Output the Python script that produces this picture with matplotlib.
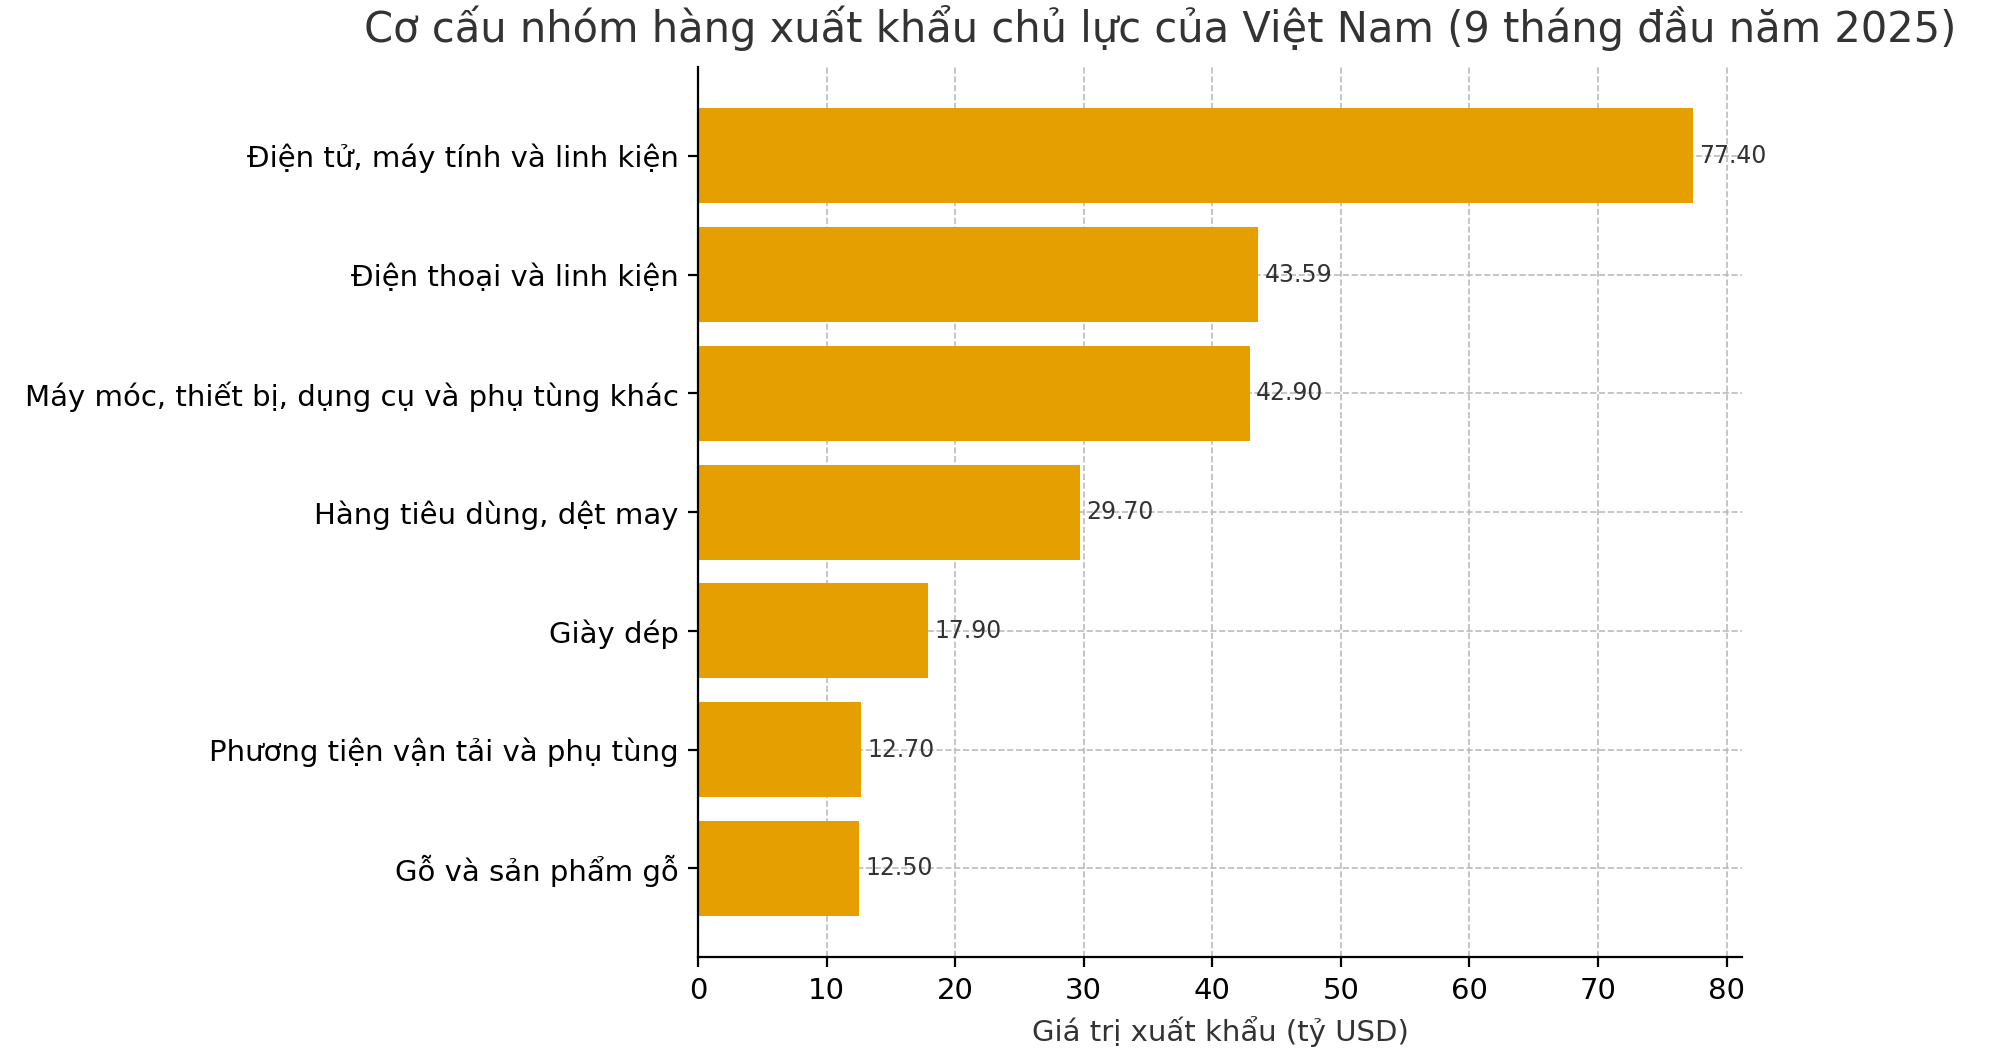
import matplotlib
matplotlib.use("Agg")
import matplotlib.pyplot as plt

categories = ["Điện tử, máy tính và linh kiện", "Điện thoại và linh kiện",
              "Máy móc, thiết bị, dụng cụ và phụ tùng khác", "Hàng tiêu dùng, dệt may",
              "Giày dép", "Phương tiện vận tải và phụ tùng", "Gỗ và sản phẩm gỗ"]
values = [77.40, 43.59, 42.90, 29.70, 17.90, 12.70, 12.50]

plt.rcParams['font.family'] = ['DejaVu Sans']
fig = plt.figure(figsize=(10, 5.29), dpi=200)
ax = fig.add_axes([0.349, 0.095, 0.522, 0.842])
y = list(range(len(categories)))[::-1]
ax.barh(y, values, height=0.8, color="#E69F00", zorder=2)
for yi, v in zip(y, values):
    ax.text(v + 0.5, yi, f"{v:.2f}", va="center", ha="left", fontsize=8.5, color="#333333", zorder=3)
ax.set_yticks(y)
ax.set_yticklabels(categories, fontsize=10.5)
ax.set_xlim(0, 81.2)
ax.set_ylim(-0.75, 6.75)
ax.set_xticks(range(0, 81, 10))
ax.tick_params(axis='x', labelsize=10.5)
ax.grid(True, linestyle="--", color="#bbbbbb", linewidth=0.6, zorder=0)
ax.spines['top'].set_visible(False)
ax.spines['right'].set_visible(False)
ax.set_xlabel("Giá trị xuất khẩu (tỷ USD)", fontsize=10.5, color="#333333")
fig.suptitle("Cơ cấu nhóm hàng xuất khẩu chủ lực của Việt Nam (9 tháng đầu năm 2025)",
             fontsize=15, color="#333333", x=0.58, y=0.995)
fig.savefig("out.png", dpi=200)
